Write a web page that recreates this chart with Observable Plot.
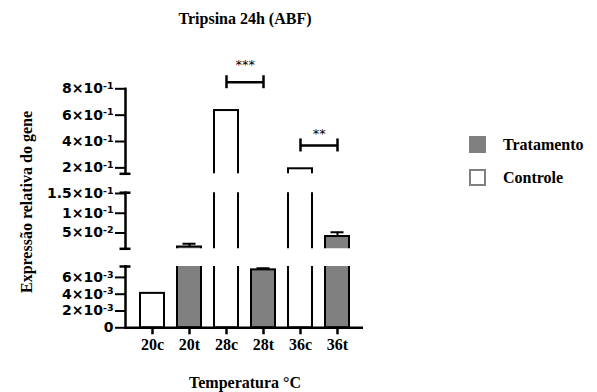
<!DOCTYPE html>
<html><head><meta charset="utf-8">
<script src="https://cdn.jsdelivr.net/npm/d3@7"></script>
<script src="https://cdn.jsdelivr.net/npm/@observablehq/plot@0.6"></script>
<style>
html,body{margin:0;padding:0;background:#fff;}
#chart{position:relative;width:597px;height:392px;overflow:hidden;font-family:"Liberation Serif","Times New Roman",serif;font-weight:bold;color:#000;}
#chart svg{position:absolute;left:0;top:0;}
.t{position:absolute;white-space:nowrap;font-size:16px;line-height:16px;}
.sw{position:absolute;box-sizing:border-box;}
</style></head><body><div id="chart"></div>
<script>
// ---- data ----
const categories = ["20c", "20t", "28c", "28t", "36c", "36t"];
const groups = ["Controle", "Tratamento", "Controle", "Tratamento", "Controle", "Tratamento"];
const means = [0.0041, 0.0146, 0.635, 0.0069, 0.193, 0.0411];
const errors = [0, 0.008, 0, 0.0002, 0, 0.0107];

const upperDomain = [0.155, 0.8];
const middleDomain = [0.01, 0.152];
const lowerDomain = [0, 0.0073];

const upperTicks = [0.2, 0.4, 0.6, 0.8];
const upperTickLabels = ["2×10^-1", "4×10^-1", "6×10^-1", "8×10^-1"];
const middleTicks = [0.05, 0.1, 0.15];
const middleTickLabels = ["5×10^-2", "1×10^-1", "1.5×10^-1"];
const lowerTicks = [0, 0.002, 0.004, 0.006];
const lowerTickLabels = ["0", "2×10^-3", "4×10^-3", "6×10^-3"];

const sigFrom = ["28c", "36c"];
const sigTo = ["28t", "36t"];
const sigY = [0.85, 0.37];
const sigLabels = ["***", "**"];
const sigLabelY = [0.985, 0.455];

const legendLabels = ["Tratamento", "Controle"];
const groupColors = ["#808080", "#ffffff"];

const title = "Tripsina 24h (ABF)";
const xLabel = "Temperatura °C";
const yLabel = "Expressão relativa do gene";

// ---- layout ----
const W = 597, H = 392;
const marginLeft = 125, marginRight = 234;
const xRange = [132.25, 357.25];
const halfStep = (xRange[1] - xRange[0]) / categories.length / 2;

const data = categories.map((cat, i) => ({cat, group: groups[i], mean: means[i], err: errors[i]}));
const sig = sigFrom.map((from, i) => ({from, to: sigTo[i], y: sigY[i], label: sigLabels[i], labelY: sigLabelY[i]}));

const segments = [
  {domain: upperDomain, top: 88.3, bottom: 173.3, ticks: upperTicks, labels: upperTickLabels, caps: [upperDomain[0]], kind: "upper"},
  {domain: middleDomain, top: 192.2, bottom: 248.3, ticks: middleTicks, labels: middleTickLabels, caps: middleDomain, kind: "middle"},
  {domain: lowerDomain, top: 266, bottom: 327.3, ticks: lowerTicks, labels: lowerTickLabels, caps: [lowerDomain[1]], kind: "lower"}
];

const chart = document.getElementById("chart");
const tickFont = {fontFamily: "DejaVu Sans", fontWeight: "bold", fontSize: 14};

for (const s of segments) {
  const segData = data.filter(d => d.mean > s.domain[0]);
  const errData = segData.filter(d => d.err > 0);
  const marks = [
    Plot.barY(segData, {x: "cat", y: "mean", fill: "group", stroke: "#000", strokeWidth: 2, clip: true}),
    Plot.ruleX(errData, {x: "cat", y1: "mean", y2: d => d.mean + d.err, stroke: "#000", strokeWidth: 2, clip: true}),
    Plot.tickY(errData, {x: "cat", y: d => d.mean + d.err, stroke: "#000", strokeWidth: 2, insetLeft: 5.5, insetRight: 5.5, clip: true}),
    Plot.frame({anchor: "left", stroke: "#000", strokeWidth: 2.5}),
    Plot.axisY(s.ticks, {anchor: "left", tickSize: 10, tickPadding: 2, strokeWidth: 2,
      tickFormat: d => s.labels[s.ticks.indexOf(d)], label: null, ...tickFont, fill: "#000"}),
    Plot.axisY(s.caps, {anchor: "left", tickSize: 11, dx: 5.5, strokeWidth: 2.5, tickFormat: () => "", label: null})
  ];
  if (s.kind === "upper") {
    marks.push(
      Plot.link(sig, {x1: "from", x2: "to", y1: "y", y2: "y", stroke: "#000", strokeWidth: 2.5}),
      Plot.ruleX(sig, {x: "from", y1: "y", y2: "y", insetTop: -6.5, insetBottom: -6.5, stroke: "#000", strokeWidth: 2.5}),
      Plot.ruleX(sig, {x: "to", y1: "y", y2: "y", insetTop: -6.5, insetBottom: -6.5, stroke: "#000", strokeWidth: 2.5}),
      Plot.text(sig, {x: "from", y: "labelY", text: "label", dx: halfStep, fontFamily: "DejaVu Sans", fontWeight: "normal", fontSize: 13, fill: "#000"})
    );
  }
  if (s.kind === "lower") {
    marks.push(
      Plot.ruleY([0], {stroke: "#000", strokeWidth: 2.5}),
      Plot.axisX({anchor: "bottom", tickSize: 7, tickPadding: 4, strokeWidth: 2.5, label: null,
        fontFamily: "Liberation Serif", fontWeight: "bold", fontSize: 16, fill: "#000"})
    );
  }
  const svg = Plot.plot({
    width: W, height: H,
    marginLeft, marginRight, marginTop: s.top, marginBottom: H - s.bottom,
    style: "background:transparent;overflow:visible;",
    x: {domain: categories, range: xRange, paddingInner: 0.35, paddingOuter: 0.175, axis: null},
    y: {domain: s.domain, axis: null},
    color: {domain: legendLabels, range: groupColors},
    marks
  });
  // render "a×10^b" tick labels with a real superscript
  svg.querySelectorAll('g[aria-label="y-axis tick label"] text').forEach(t => {
    const str = t.textContent;
    if (!str.includes("^")) return;
    const [base, exp] = str.split("^");
    t.textContent = base;
    const sup = document.createElementNS("http://www.w3.org/2000/svg", "tspan");
    sup.setAttribute("dy", "-0.45em");
    sup.setAttribute("font-size", "9.5");
    sup.textContent = exp;
    t.appendChild(sup);
  });
  chart.appendChild(svg);
}

// ---- text and legend ----
function addText(txt, x, y, extra = "") {
  const el = document.createElement("div");
  el.className = "t";
  el.textContent = txt;
  el.style.cssText += `left:${x}px;top:${y}px;transform:translate(-50%,-50%) ${extra};`;
  chart.appendChild(el);
}
addText(title, 245, 19);
addText(xLabel, 245, 383);
addText(yLabel, 27, 202, "rotate(-90deg)");

legendLabels.forEach((lab, i) => {
  const y = [136, 169][i];
  const sw = document.createElement("div");
  sw.className = "sw";
  sw.style.cssText = `left:469px;top:${y}px;width:17px;height:17px;background:${groupColors[i]};` +
    (i === 1 ? "border:2.5px solid #808080;" : "");
  chart.appendChild(sw);
  const t = document.createElement("div");
  t.className = "t";
  t.textContent = lab;
  t.style.cssText += `left:503px;top:${y + 8.5}px;transform:translateY(-50%);`;
  chart.appendChild(t);
});
</script>
</body></html>
